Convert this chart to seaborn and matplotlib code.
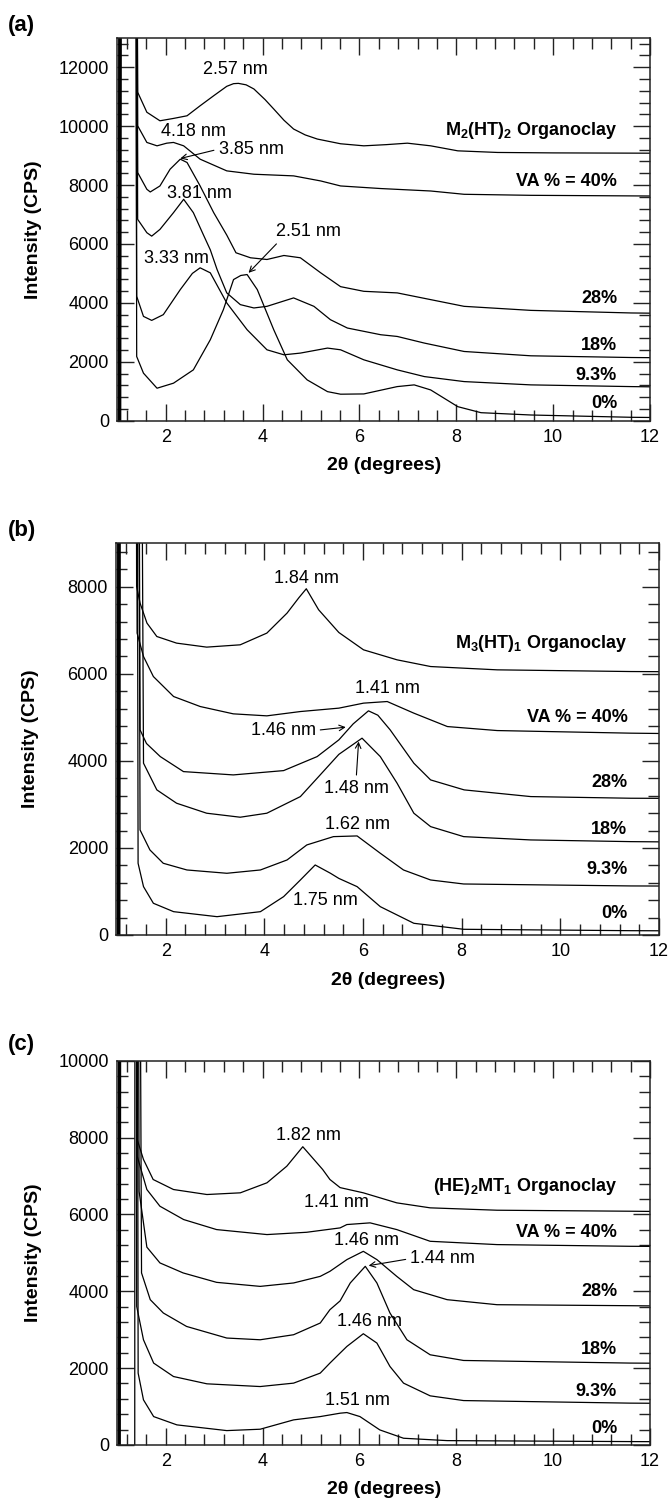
import numpy as np
import pandas as pd
import matplotlib
matplotlib.use('Agg')
import matplotlib.pyplot as plt
import seaborn as sns
from matplotlib.ticker import MultipleLocator

sns.set_style('ticks')
plt.rcParams['font.family'] = ['Liberation Sans', 'DejaVu Sans']
plt.rcParams['mathtext.fontset'] = 'custom'
plt.rcParams['mathtext.rm'] = 'Liberation Sans'
plt.rcParams['mathtext.bf'] = 'Liberation Sans:bold'
plt.rcParams['mathtext.it'] = 'Liberation Sans:italic'
plt.rcParams['text.color'] = 'black'
plt.rcParams['axes.labelcolor'] = 'black'
plt.rcParams['xtick.color'] = 'black'
plt.rcParams['ytick.color'] = 'black'

# ---------------- data: panel (a) M2(HT)2 ----------------
a_org_x = [1.03, 1.06, 1.36, 1.42, 1.61, 1.88, 2.16, 2.44, 2.71, 2.99, 3.26, 3.40, 3.50, 3.66, 3.82, 4.05, 4.23, 4.44, 4.64, 4.88, 5.13, 5.61, 6.09, 6.55, 6.99, 7.47, 8.03, 8.85, 10.0, 11.0, 12.0]
a_org_y = [0, 40000, 40000, 11150, 10470, 10180, 10260, 10350, 10690, 11030, 11350, 11440, 11450, 11400, 11260, 10900, 10580, 10200, 9900, 9700, 9560, 9400, 9330, 9370, 9420, 9330, 9160, 9105, 9090, 9085, 9080]
a_40_x = [1.04, 1.07, 1.36, 1.42, 1.61, 1.82, 2.02, 2.16, 2.37, 2.71, 3.26, 3.82, 4.64, 5.20, 5.61, 6.44, 7.47, 8.16, 9.54, 12.0]
a_40_y = [0, 40000, 40000, 10010, 9445, 9330, 9420, 9445, 9330, 8877, 8480, 8366, 8310, 8138, 7968, 7880, 7797, 7685, 7650, 7627]
a_28_x = [1.05, 1.08, 1.36, 1.42, 1.61, 1.68, 1.88, 2.09, 2.30, 2.44, 2.71, 2.99, 3.26, 3.45, 3.75, 4.09, 4.44, 4.78, 5.20, 5.61, 6.09, 6.78, 7.47, 8.16, 9.54, 11.61, 12.0]
a_28_y = [0, 40000, 40000, 8424, 7855, 7764, 7968, 8537, 8877, 8764, 7968, 7062, 6300, 5700, 5530, 5472, 5608, 5530, 5019, 4550, 4392, 4338, 4110, 3882, 3745, 3657, 3650]
a_18_x = [1.06, 1.09, 1.36, 1.42, 1.61, 1.71, 1.88, 2.16, 2.37, 2.57, 2.78, 2.92, 3.06, 3.26, 3.54, 3.82, 4.09, 4.64, 5.06, 5.40, 5.75, 6.44, 6.78, 7.34, 8.16, 9.54, 11.61, 12.0]
a_18_y = [0, 40000, 40000, 6835, 6381, 6265, 6493, 7062, 7515, 7062, 6300, 5800, 5131, 4338, 3940, 3827, 3882, 4168, 3882, 3429, 3146, 2918, 2860, 2635, 2350, 2203, 2145, 2140]
a_93_x = [1.02, 1.05, 1.36, 1.40, 1.54, 1.71, 1.95, 2.30, 2.55, 2.71, 2.92, 3.26, 3.68, 4.09, 4.44, 4.78, 5.34, 5.61, 6.09, 6.78, 7.34, 8.16, 9.54, 11.61, 12.0]
a_93_y = [0, 40000, 40000, 4222, 3541, 3405, 3600, 4450, 5000, 5189, 5019, 3997, 3088, 2407, 2237, 2295, 2465, 2407, 2067, 1726, 1498, 1328, 1216, 1158, 1150]
a_0_x = [1.07, 1.10, 1.36, 1.40, 1.54, 1.82, 2.16, 2.57, 2.92, 3.19, 3.40, 3.55, 3.68, 3.89, 4.23, 4.51, 4.92, 5.34, 5.61, 6.09, 6.78, 7.13, 7.47, 8.03, 8.51, 9.54, 11.61, 12.0]
a_0_y = [0, 40000, 40000, 2179, 1614, 1103, 1274, 1726, 2748, 3769, 4791, 4930, 4961, 4450, 3088, 2067, 1386, 987, 900, 909, 1158, 1216, 1045, 477, 272, 194, 116, 110]

# ---------------- data: panel (b) M3(HT)1 ----------------
b_org_x = [1.03, 1.06, 1.37, 1.41, 1.48, 1.62, 1.82, 2.22, 2.83, 3.51, 4.05, 4.46, 4.70, 4.85, 5.10, 5.51, 6.01, 6.69, 7.37, 8.72, 11.43, 12.0]
b_org_y = [0, 40000, 40000, 8007, 7626, 7166, 6858, 6706, 6614, 6667, 6936, 7396, 7750, 7955, 7472, 6950, 6552, 6322, 6168, 6092, 6053, 6050]
b_40_x = [1.04, 1.07, 1.37, 1.42, 1.55, 1.75, 2.16, 2.70, 3.37, 4.05, 4.73, 5.51, 6.01, 6.49, 7.03, 7.71, 8.72, 11.43, 12.0]
b_40_y = [0, 40000, 40000, 6936, 6398, 5938, 5479, 5249, 5081, 5035, 5134, 5212, 5327, 5364, 5097, 4789, 4697, 4637, 4630]
b_28_x = [1.05, 1.08, 1.38, 1.48, 1.61, 1.89, 2.36, 3.37, 4.39, 5.07, 5.51, 5.80, 6.11, 6.30, 6.55, 7.03, 7.37, 8.05, 9.40, 11.43, 12.0]
b_28_y = [0, 40000, 40000, 4713, 4400, 4099, 3754, 3678, 3777, 4099, 4483, 4850, 5150, 5050, 4713, 3947, 3563, 3334, 3180, 3142, 3140]
b_18_x = [1.06, 1.09, 1.39, 1.55, 1.82, 2.22, 2.83, 3.51, 4.05, 4.73, 5.10, 5.51, 5.98, 6.35, 6.69, 7.03, 7.37, 8.04, 9.40, 11.43, 12.0]
b_18_y = [0, 40000, 40000, 3947, 3334, 3028, 2798, 2706, 2798, 3180, 3639, 4150, 4522, 4099, 3488, 2798, 2490, 2260, 2184, 2145, 2140]
b_93_x = [1.02, 1.05, 1.38, 1.48, 1.68, 1.95, 2.43, 3.24, 3.92, 4.46, 4.86, 5.40, 5.88, 6.35, 6.82, 7.37, 8.04, 11.43, 12.0]
b_93_y = [0, 40000, 40000, 2414, 1954, 1648, 1494, 1418, 1494, 1724, 2069, 2260, 2276, 1878, 1494, 1264, 1172, 1127, 1125]
b_0_x = [1.07, 1.10, 1.38, 1.44, 1.55, 1.75, 2.16, 3.04, 3.92, 4.39, 4.73, 5.03, 5.34, 5.51, 5.88, 6.35, 7.03, 8.04, 11.43, 12.0]
b_0_y = [0, 40000, 40000, 1648, 1111, 729, 536, 421, 536, 881, 1264, 1609, 1418, 1300, 1111, 651, 269, 131, 99, 97]

# ---------------- data: panel (c) (HE)2MT1 ----------------
c_org_x = [1.03, 1.06, 1.37, 1.41, 1.54, 1.74, 2.16, 2.85, 3.54, 4.09, 4.50, 4.83, 5.24, 5.39, 5.60, 6.08, 6.77, 7.46, 8.84, 11.59, 12.0]
c_org_y = [0, 40000, 40000, 7954, 7433, 6911, 6650, 6520, 6564, 6825, 7258, 7764, 7172, 6911, 6700, 6564, 6303, 6173, 6111, 6085, 6080]
c_40_x = [1.04, 1.07, 1.37, 1.41, 1.61, 1.88, 2.37, 3.05, 4.09, 4.91, 5.60, 5.74, 6.22, 6.77, 7.46, 8.84, 11.59, 12.0]
c_40_y = [0, 40000, 40000, 7519, 6650, 6215, 5868, 5607, 5477, 5537, 5651, 5738, 5782, 5607, 5302, 5216, 5172, 5170]
c_28_x = [1.05, 1.08, 1.38, 1.45, 1.61, 1.88, 2.36, 3.05, 3.95, 4.64, 5.19, 5.39, 5.74, 6.08, 6.36, 6.77, 7.12, 7.81, 8.84, 11.59, 12.0]
c_28_y = [0, 40000, 40000, 6600, 5150, 4739, 4478, 4233, 4128, 4217, 4389, 4520, 4825, 5041, 4825, 4389, 4042, 3782, 3651, 3625, 3620]
c_18_x = [1.06, 1.09, 1.38, 1.50, 1.68, 1.95, 2.43, 3.26, 3.95, 4.64, 5.19, 5.39, 5.60, 5.81, 6.12, 6.36, 6.63, 6.98, 7.46, 8.15, 11.59, 12.0]
c_18_y = [0, 40000, 40000, 4478, 3782, 3435, 3085, 2783, 2738, 2869, 3174, 3521, 3750, 4217, 4650, 4217, 3435, 2738, 2347, 2199, 2131, 2128]
c_93_x = [1.02, 1.05, 1.37, 1.40, 1.54, 1.75, 2.16, 2.85, 3.95, 4.64, 5.19, 5.39, 5.60, 5.74, 6.08, 6.36, 6.63, 6.91, 7.46, 8.15, 11.59, 12.0]
c_93_y = [0, 40000, 40000, 3607, 2738, 2131, 1781, 1591, 1520, 1609, 1870, 2131, 2392, 2564, 2895, 2652, 2042, 1609, 1278, 1155, 1088, 1085]
c_0_x = [1.36, 1.37, 1.38, 1.43, 1.54, 1.75, 2.23, 3.26, 3.95, 4.64, 5.19, 5.60, 5.74, 6.01, 6.42, 6.91, 7.81, 11.59, 12.0]
c_0_y = [0, 40000, 40000, 1870, 1174, 738, 522, 373, 409, 652, 738, 826, 843, 738, 391, 174, 112, 87, 85]

# ---------------- labels ----------------
sample_keys = ['org', '40', '28', '18', '9.3', '0']
a_right_labels = [r'M$_{\mathbf{2}}$(HT)$_{\mathbf{2}}$ Organoclay', 'VA % = 40%', '28%', '18%', '9.3%', '0%']
b_right_labels = [r'M$_{\mathbf{3}}$(HT)$_{\mathbf{1}}$ Organoclay', 'VA % = 40%', '28%', '18%', '9.3%', '0%']
c_right_labels = [r'(HE)$_{\mathbf{2}}$MT$_{\mathbf{1}}$ Organoclay', 'VA % = 40%', '28%', '18%', '9.3%', '0%']
a_right_y = [9841, 8104, 4144, 2554, 1522, 569]
b_right_y = [6706, 4996, 3511, 2414, 1510, 483]
c_right_y = [6737, 5537, 3982, 2478, 1390, 435]

a_peak_text = ['2.57 nm', '4.18 nm', '3.81 nm', '3.33 nm']
a_peak_xy = [(3.43, 11907), (2.57, 9820), (2.69, 7709), (2.23, 5496)]
b_peak_text = ['1.84 nm', '1.41 nm', '1.62 nm', '1.75 nm']
b_peak_xy = [(4.86, 8200), (6.49, 5672), (5.88, 2545), (5.23, 789)]
c_peak_text = ['1.82 nm', '1.41 nm', '1.46 nm', '1.46 nm', '1.51 nm']
c_peak_xy = [(4.94, 8059), (5.52, 6303), (6.15, 5320), (6.20, 3216), (5.95, 1155)]

# arrow annotations: text, target, text position, ha, relpos
a_arrows = [('3.85 nm', (2.30, 8900), (3.09, 9217), 'left', (0, 0.5)),
            ('2.51 nm', (3.71, 5019), (4.94, 6435), 'center', (0.1, 0.1))]
b_arrows = [('1.46 nm', (5.65, 4775), (4.38, 4700), 'center', (1, 0.5)),
            ('1.48 nm', (5.91, 4444), (5.86, 3373), 'center', (0.5, 1))]
c_arrows = [('1.44 nm', (6.19, 4668), (7.05, 4851), 'left', (0, 0.5))]


def make_df(xs, ys):
    frames = []
    for k, x, y in zip(sample_keys, xs, ys):
        frames.append(pd.DataFrame({'x': x, 'y': y, 'curve': k}))
    return pd.concat(frames, ignore_index=True)


panels = [
    dict(df=make_df([a_org_x, a_40_x, a_28_x, a_18_x, a_93_x, a_0_x],
                    [a_org_y, a_40_y, a_28_y, a_18_y, a_93_y, a_0_y]),
         rect=[0.1751, 0.7199, 0.7951, 0.2550], ymax=13000, ymaj=2000,
         rlab=a_right_labels, ry=a_right_y, rx=11.32,
         pt=a_peak_text, pxy=a_peak_xy, arr=a_arrows, letter='(a)', ly=0.9827),
    dict(df=make_df([b_org_x, b_40_x, b_28_x, b_18_x, b_93_x, b_0_x],
                    [b_org_y, b_40_y, b_28_y, b_18_y, b_93_y, b_0_y]),
         rect=[0.1737, 0.3775, 0.8099, 0.2608], ymax=9000, ymaj=2000,
         rlab=b_right_labels, ry=b_right_y, rx=11.36,
         pt=b_peak_text, pxy=b_peak_xy, arr=b_arrows, letter='(b)', ly=0.6471),
    dict(df=make_df([c_org_x, c_40_x, c_28_x, c_18_x, c_93_x, c_0_x],
                    [c_org_y, c_40_y, c_28_y, c_18_y, c_93_y, c_0_y]),
         rect=[0.1751, 0.0380, 0.7951, 0.2557], ymax=10000, ymaj=2000,
         rlab=c_right_labels, ry=c_right_y, rx=11.32,
         pt=c_peak_text, pxy=c_peak_xy, arr=c_arrows, letter='(c)', ly=0.3049),
]

fig = plt.figure(figsize=(6.7, 15.02), dpi=100)

for p in panels:
    ax = fig.add_axes(p['rect'])
    sns.lineplot(data=p['df'], x='x', y='y', units='curve', estimator=None,
                 sort=False, color='black', linewidth=0.9, ax=ax, legend=False)
    ax.set_xlim(1, 12)
    ax.set_ylim(0, p['ymax'])
    ax.xaxis.set_major_locator(MultipleLocator(2))
    ax.xaxis.set_minor_locator(MultipleLocator(0.4))
    ax.yaxis.set_major_locator(MultipleLocator(p['ymaj']))
    ax.yaxis.set_minor_locator(MultipleLocator(400))
    ax.tick_params(which='both', direction='in', top=True, right=True,
                   width=1.0, color='#222222', labelcolor='black',
                   labelsize=13, pad=6)
    ax.tick_params(which='major', length=12)
    ax.tick_params(which='minor', length=8)
    for s in ax.spines.values():
        s.set_linewidth(1.1)
        s.set_color('#222222')
    ax.set_xlabel('2θ (degrees)', fontsize=14, fontweight='bold')
    ax.set_ylabel('Intensity (CPS)', fontsize=14, fontweight='bold')
    ax.xaxis.set_label_coords(0.5, -0.094)
    ax.yaxis.set_label_coords(-0.142, 0.5)

    for lab, yy in zip(p['rlab'], p['ry']):
        ax.text(p['rx'], yy, lab, ha='right', va='center', fontsize=13,
                fontweight='bold')
    for t, (xx, yy) in zip(p['pt'], p['pxy']):
        ax.text(xx, yy, t, ha='center', va='center', fontsize=13)
    for t, target, txy, ha, rp in p['arr']:
        ax.annotate(t, xy=target, xytext=txy, ha=ha, va='center', fontsize=13,
                    arrowprops=dict(arrowstyle='->', lw=0.8, color='black',
                                    shrinkA=1, shrinkB=0, relpos=rp,
                                    mutation_scale=10))
    fig.text(0.012, p['ly'], p['letter'], ha='left', va='center',
             fontsize=16, fontweight='bold')

fig.savefig('out.png', dpi=100)
